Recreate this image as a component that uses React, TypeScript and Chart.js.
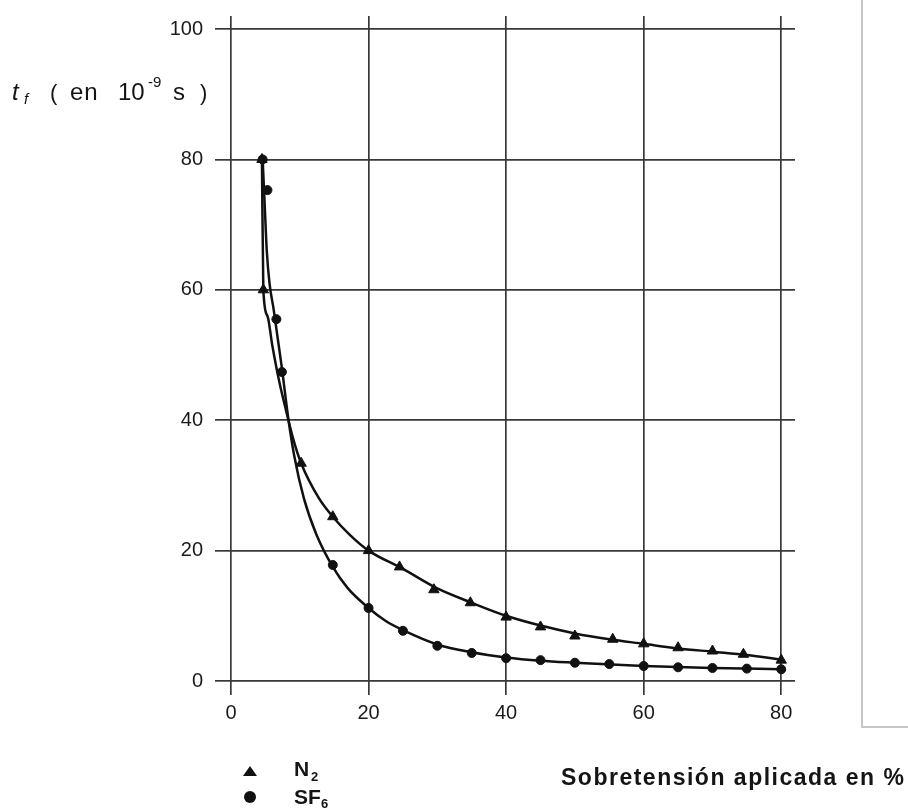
import React, { useEffect, useRef } from "react";
import { Chart, registerables } from "chart.js";
Chart.register(...registerables);

const xTicks = [0, 20, 40, 60, 80];
const yTicks = [0, 20, 40, 60, 80, 100];

// measured points (markers)
const n2X = [4.5, 4.7, 10.2, 14.8, 20, 24.5, 29.5, 34.8, 40, 45, 50, 55.5, 60, 65, 70, 74.5, 80];
const n2Y = [80, 60, 33.4, 25.2, 20, 17.5, 14, 12, 9.8, 8.3, 6.9, 6.4, 5.7, 5.1, 4.6, 4.1, 3.2];
const sf6X = [4.6, 5.3, 6.6, 7.4, 14.8, 20, 25, 30, 35, 40, 45, 50, 55, 60, 65, 70, 75, 80];
const sf6Y = [80, 75.3, 55.5, 47.4, 17.8, 11.2, 7.7, 5.4, 4.3, 3.5, 3.2, 2.8, 2.6, 2.3, 2.1, 2.0, 1.9, 1.8];

// fitted curves
const n2CurveX = [4.5, 4.7, 5.3, 6, 7, 8, 9, 10.2, 12.8, 14.8, 17.2, 20, 25, 30, 35, 40, 45, 50, 55, 60, 65, 70, 75, 80];
const n2CurveY = [80, 60, 56, 51.5, 46, 41.5, 37.3, 33.4, 28, 25.2, 22.5, 20, 17.2, 14.2, 12, 10, 8.5, 7.3, 6.4, 5.7, 5, 4.5, 4, 3.3];
const sf6CurveX = [4.6, 4.9, 5.2, 5.6, 6.2, 6.8, 7.4, 8.3, 9.2, 10.6, 12.4, 14.8, 17, 20, 22.5, 25, 30, 35, 40, 45, 50, 60, 70, 80];
const sf6CurveY = [80, 73, 66, 61, 57, 52.5, 48, 40.5, 34.5, 28, 22.5, 17.5, 14.2, 11.2, 9.2, 7.8, 5.6, 4.4, 3.6, 3.1, 2.8, 2.3, 2.0, 1.8];

const FONT = "'Liberation Sans', Arial, sans-serif";

function Txt(props: { x: number; base: number; size: number; text: string; bold?: boolean; italic?: boolean; ls?: number }) {
  const top = props.base - 0.8465 * props.size;
  return (
    <span
      style={{
        position: "absolute",
        left: props.x,
        top,
        fontSize: props.size,
        lineHeight: 1,
        fontFamily: FONT,
        fontWeight: props.bold ? "bold" : "normal",
        fontStyle: props.italic ? "italic" : "normal",
        letterSpacing: props.ls ? props.ls + "px" : undefined,
        whiteSpace: "pre",
        color: "#141414",
      }}
    >
      {props.text}
    </span>
  );
}

export default function App() {
  const ref = useRef<HTMLCanvasElement | null>(null);
  useEffect(() => {
    if (!ref.current) return;
    const gridCol = "#383838";
    const pts = (xs: number[], ys: number[]) => xs.map((x, i) => ({ x, y: ys[i] }));
    const chart = new Chart(ref.current, {
      type: "scatter",
      data: {
        datasets: [
          {
            label: "N2 curve",
            data: pts(n2CurveX, n2CurveY),
            showLine: true,
            borderColor: "#111",
            borderWidth: 2.5,
            pointRadius: 0,
            cubicInterpolationMode: "monotone",
          },
          {
            label: "SF6 curve",
            data: pts(sf6CurveX, sf6CurveY),
            showLine: true,
            borderColor: "#111",
            borderWidth: 2.5,
            pointRadius: 0,
            cubicInterpolationMode: "monotone",
          },
          {
            label: "N2",
            data: pts(n2X, n2Y),
            showLine: false,
            borderColor: "#111",
            backgroundColor: "#111",
            pointStyle: "triangle",
            pointRadius: 6,
          },
          {
            label: "SF6",
            data: pts(sf6X, sf6Y),
            showLine: false,
            borderColor: "#111",
            backgroundColor: "#111",
            pointStyle: "circle",
            pointRadius: 4.5,
          },
        ],
      },
      options: {
        responsive: false,
        animation: false,
        layout: { padding: { left: 0, top: 16, right: 113, bottom: 0 } },
        plugins: { legend: { display: false }, tooltip: { enabled: false } },
        scales: {
          x: {
            type: "linear",
            min: 0,
            max: 82,
            afterBuildTicks: (s: any) => {
              s.ticks = xTicks.map((v) => ({ value: v }));
            },
            afterFit: (s: any) => {
              s.height = 128;
            },
            grid: { color: gridCol, lineWidth: 1.7, tickLength: 14, drawTicks: true },
            border: { display: false },
            ticks: { color: "#1a1a1a", font: { family: FONT, size: 20 }, padding: 6, maxRotation: 0 },
          },
          y: {
            type: "linear",
            min: 0,
            max: 102,
            afterBuildTicks: (s: any) => {
              s.ticks = yTicks.map((v) => ({ value: v }));
            },
            afterFit: (s: any) => {
              s.width = 231;
              s.paddingTop = 0;
              s.paddingBottom = 0;
            },
            grid: { color: gridCol, lineWidth: 1.7, tickLength: 16, drawTicks: true },
            border: { display: false },
            ticks: { color: "#1a1a1a", font: { family: FONT, size: 20 }, padding: 12 },
          },
        },
      },
    } as any);
    return () => chart.destroy();
  }, []);

  return (
    <div style={{ position: "absolute", left: 0, top: 0, width: 908, height: 809, background: "#fff", overflow: "hidden" }}>
      <canvas ref={ref} width={908} height={809} style={{ position: "absolute", left: 0, top: 0, width: 908, height: 809 }} />
      <div
        style={{
          position: "absolute",
          left: 861,
          top: -2,
          width: 50,
          height: 730,
          borderLeft: "2px solid #c6c6c6",
          borderBottom: "2px solid #c6c6c6",
          boxSizing: "border-box",
        }}
      />
      <Txt x={12} base={100} size={24} text="t" italic />
      <Txt x={24} base={104} size={15} text="f" italic />
      <Txt x={50} base={101} size={22} text="(" />
      <Txt x={70} base={100} size={24} text="en" ls={1} />
      <Txt x={118} base={100} size={24} text="10" />
      <Txt x={148} base={87} size={15} text="-9" />
      <Txt x={173} base={100} size={24} text="s" />
      <Txt x={200} base={101} size={22} text=")" />

      <div
        style={{
          position: "absolute",
          left: 243,
          top: 766,
          width: 14,
          height: 10,
          background: "#111",
          clipPath: "polygon(50% 0, 100% 100%, 0 100%)",
        }}
      />
      <div style={{ position: "absolute", left: 244, top: 791, width: 12, height: 12, borderRadius: "50%", background: "#111" }} />
      <Txt x={294} base={776} size={21} text="N" bold />
      <Txt x={311} base={781} size={13} text="2" bold />
      <Txt x={294} base={804} size={21} text="SF" bold />
      <Txt x={321} base={808} size={13} text="6" bold />
      <Txt x={561} base={785} size={23} text="Sobretensión aplicada en %" bold ls={1.5} />
    </div>
  );
}
